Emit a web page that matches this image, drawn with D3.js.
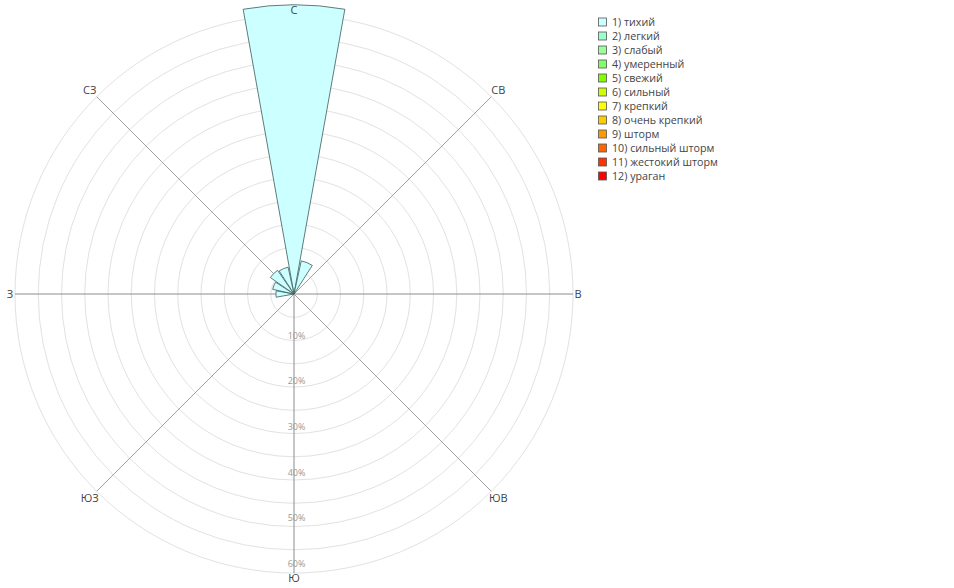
<!DOCTYPE html>
<html>
<head>
<meta charset="utf-8">
<script src="https://cdn.jsdelivr.net/npm/d3@7"></script>
<style>
  body { margin: 0; background: #fff; }
  svg { display: block; font-family: "Open Sans", "Noto Sans", sans-serif; }
</style>
</head>
<body>
<div id="chart"></div>
<script>
// wind rose: 16 directions, share of observations (%)
const directions = ["С", "ССВ", "СВ", "ВСВ", "В", "ВЮВ", "ЮВ", "ЮЮВ",
                    "Ю", "ЮЮЗ", "ЮЗ", "ЗЮЗ", "З", "ЗСЗ", "СЗ", "ССЗ"];
const calmValues = [62.2, 7.3, 0, 0, 0, 0, 0, 0, 0, 0, 0, 0, 3.9, 4.7, 6.2, 5.9];

const axisLabels = ["С", "СВ", "В", "ЮВ", "Ю", "ЮЗ", "З", "СЗ"];
const gridTicks = [5, 10, 15, 20, 25, 30, 35, 40, 45, 50, 55, 60];
const tickLabels = [10, 20, 30, 40, 50, 60];

const seriesNames = ["1) тихий", "2) легкий", "3) слабый", "4) умеренный", "5) свежий",
  "6) сильный", "7) крепкий", "8) очень крепкий", "9) шторм", "10) сильный шторм",
  "11) жестокий шторм", "12) ураган"];
const seriesColors = ["#ccffff", "#99ffcc", "#99ff99", "#80ff66", "#80ff00", "#ccff00",
  "#ffff00", "#ffcc00", "#ff9900", "#ff6600", "#ff3300", "#ff0000"];

const width = 954, height = 588;
const cx = 294, cy = 294, outerR = 279;

const svg = d3.select("#chart").append("svg")
  .attr("width", width)
  .attr("height", height);

const g = svg.append("g").attr("transform", `translate(${cx},${cy})`);

const rScale = d3.scaleLinear().domain([0, 60]).range([0, outerR]);
const angleScale = d3.scaleBand()
  .domain(directions)
  .range([-Math.PI / 16, 2 * Math.PI - Math.PI / 16])
  .paddingInner(0.1)
  .paddingOuter(0.05);

// grid circles
g.selectAll(".grid")
  .data(gridTicks)
  .enter()
  .append("circle")
  .attr("class", "grid")
  .attr("r", (d) => rScale(d))
  .attr("fill", "none")
  .attr("stroke", "#e2e2e2")
  .attr("stroke-width", 1);

// spokes
const spokeAngle = (i) => (i * Math.PI) / 4;
g.selectAll(".spoke")
  .data(axisLabels)
  .enter()
  .append("line")
  .attr("class", "spoke")
  .attr("x1", 0)
  .attr("y1", 0)
  .attr("x2", (d, i) => outerR * Math.sin(spokeAngle(i)))
  .attr("y2", (d, i) => -outerR * Math.cos(spokeAngle(i)))
  .attr("stroke", (d, i) => (i % 2 === 0 ? "#8c8c8c" : "#a0a0a0"))
  .attr("stroke-width", 1);

// bars
const arc = d3.arc()
  .innerRadius(0)
  .outerRadius((d) => rScale(d.value))
  .startAngle((d) => angleScale(d.dir))
  .endAngle((d) => angleScale(d.dir) + angleScale.bandwidth());

const barData = directions.map((dir, i) => ({ dir, value: calmValues[i] })).filter((d) => d.value > 0);

g.selectAll(".bar")
  .data(barData)
  .enter()
  .append("path")
  .attr("class", "bar")
  .attr("d", arc)
  .attr("fill", seriesColors[0])
  .attr("stroke", "#3c5a5a")
  .attr("stroke-width", 0.8);

// radial tick labels along the south spoke
g.selectAll(".tick-label")
  .data(tickLabels)
  .enter()
  .append("text")
  .attr("class", "tick-label")
  .attr("x", 2.5)
  .attr("y", (d) => rScale(d) * 0.982 - 1)
  .attr("text-anchor", "middle")
  .attr("font-size", "9px")
  .attr("fill", "#999")
  .text((d) => d + "%");

// direction labels
g.selectAll(".dir-label")
  .data(axisLabels)
  .enter()
  .append("text")
  .attr("class", "dir-label")
  .attr("x", (d, i) => (outerR + (i % 2 === 0 ? 5 : 10)) * Math.sin(spokeAngle(i)))
  .attr("y", (d, i) => -(outerR + (i % 2 === 0 ? 5 : 10)) * Math.cos(spokeAngle(i)) - 0.5)
  .attr("text-anchor", "middle")
  .attr("dominant-baseline", "central")
  .attr("font-size", "11px")
  .attr("fill", "#444")
  .text((d) => d);

// legend
const legend = svg.append("g").attr("transform", "translate(598,17.5)");
const item = legend.selectAll(".legend-item")
  .data(seriesNames)
  .enter()
  .append("g")
  .attr("class", "legend-item")
  .attr("transform", (d, i) => `translate(0,${i * 14})`);

item.append("rect")
  .attr("x", 0.5)
  .attr("y", 0.5)
  .attr("width", 8)
  .attr("height", 8)
  .attr("fill", (d, i) => seriesColors[i])
  .attr("stroke", "#555")
  .attr("stroke-width", 0.8);

item.append("text")
  .attr("x", 14)
  .attr("y", 4.5)
  .attr("dominant-baseline", "central")
  .attr("font-size", "10.7px")
  .attr("fill", "#444")
  .text((d) => d);
</script>
</body>
</html>
